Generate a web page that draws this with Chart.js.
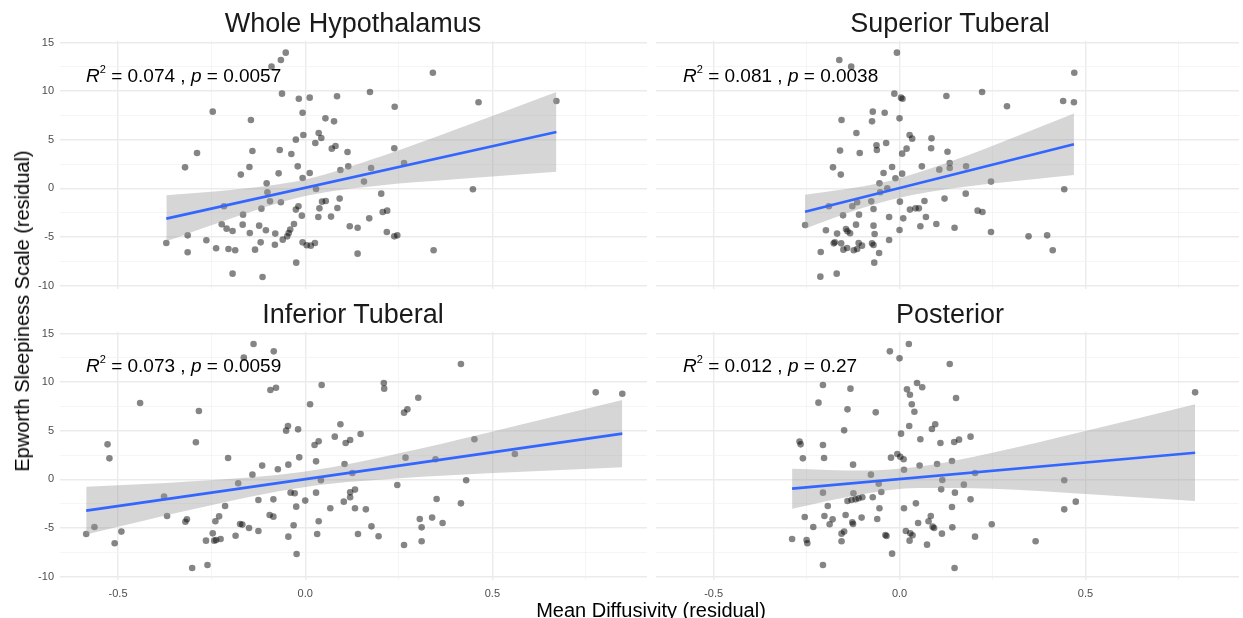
<!DOCTYPE html>
<html>
<head>
<meta charset="utf-8">
<script src="https://cdn.jsdelivr.net/npm/chart.js@4.4.1/dist/chart.umd.min.js"></script>
<style>
  body { margin: 0; background: #fff; font-family: "Liberation Sans", Arial, Helvetica, sans-serif; }
  #wrap { position: relative; width: 1243px; height: 618px; overflow: hidden; }
  canvas { position: absolute; }
  .title { position: absolute; font-size: 27px; line-height: 27px; color: #1a1a1a; white-space: nowrap; transform: translateX(-50%); }
  .stat { position: absolute; font-size: 19px; line-height: 19px; color: #000; white-space: nowrap; }
  .stat sup { font-size: 11px; position: relative; top: -9px; vertical-align: baseline; line-height: 0; }
  .axis-title { position: absolute; font-size: 20px; line-height: 20px; color: #000; white-space: nowrap; }
</style>
</head>
<body>
<div id="wrap">
  <canvas id="c0" width="657" height="268" style="left:0;top:31px"></canvas>
  <canvas id="c1" width="597" height="268" style="left:646px;top:31px"></canvas>
  <canvas id="c2" width="657" height="280" style="left:0;top:322px"></canvas>
  <canvas id="c3" width="597" height="280" style="left:646px;top:322px"></canvas>

  <div class="title" style="left:353px;top:10px">Whole Hypothalamus</div>
  <div class="title" style="left:950px;top:10px">Superior Tuberal</div>
  <div class="title" style="left:353px;top:301px">Inferior Tuberal</div>
  <div class="title" style="left:950px;top:301px">Posterior</div>

  <div class="stat" style="left:86px;top:66px"><i>R</i><sup>2</sup> = 0.074 , <i>p</i> = 0.0057</div>
  <div class="stat" style="left:683px;top:66px"><i>R</i><sup>2</sup> = 0.081 , <i>p</i> = 0.0038</div>
  <div class="stat" style="left:86px;top:356px"><i>R</i><sup>2</sup> = 0.073 , <i>p</i> = 0.0059</div>
  <div class="stat" style="left:683px;top:356px"><i>R</i><sup>2</sup> = 0.012 , <i>p</i> = 0.27</div>

  <div class="axis-title" style="left:651px;top:600px;transform:translateX(-50%)">Mean Diffusivity (residual)</div>
  <div class="axis-title" style="left:22px;top:311px;transform:translate(-50%,-50%) rotate(-90deg)">Epworth Sleepiness Scale (residual)</div>
</div>

<script>
// axis limits and ticks (shared by all four facets)
const xLimits = [-0.655, 0.913];
const yLimits = [-10.36, 15.16];
const xGridValues = [-0.5, -0.25, 0, 0.25, 0.5, 0.75];
const xTickLabels = { '-0.5': '-0.5', '0': '0.0', '0.5': '0.5' };
const yGridValues = [-10, -7.5, -5, -2.5, 0, 2.5, 5, 7.5, 10, 12.5, 15];
const yTickLabels = { '-10': '-10', '-5': '-5', '0': '0', '5': '5', '10': '10', '15': '15' };

// Whole Hypothalamus: [mean diffusivity, epworth]
const wholePts = [[-0.052,13.96],[-0.065,13.20],[-0.090,12.52],[-0.062,9.74],[-0.017,9.22],[0.012,9.33],[0.085,9.47],[-0.247,7.89],[-0.145,7.03],[-0.007,7.78],[0.054,7.20],[0.077,6.89],[0.036,5.69],[0.043,5.18],[-0.005,5.49],[-0.025,5.01],[0.027,4.66],[0.081,4.36],[0.071,4.08],[-0.289,3.64],[-0.141,3.84],[-0.068,3.94],[-0.037,3.53],[0.113,3.74],[-0.321,2.16],[-0.149,2.19],[-0.020,2.26],[0.115,2.26],[-0.172,1.41],[-0.071,1.54],[0.012,1.58],[0.094,1.89],[-0.007,1.06],[-0.103,0.51],[0.029,-0.07],[-0.101,-0.41],[-0.094,-1.34],[-0.065,-1.44],[-0.217,-1.85],[-0.117,-2.09],[-0.018,-1.85],[-0.025,-2.19],[0.055,-1.30],[0.045,-1.37],[0.038,-2.06],[0.092,-1.06],[0.086,-2.02],[-0.166,-2.71],[-0.009,-2.81],[0.035,-2.95],[0.069,-2.91],[-0.223,-3.70],[-0.210,-4.15],[-0.194,-4.39],[-0.167,-3.74],[-0.148,-4.60],[-0.123,-3.84],[-0.105,-4.32],[-0.030,-3.67],[-0.040,-4.25],[-0.044,-4.60],[-0.080,-4.66],[-0.048,-4.94],[-0.060,-5.28],[0.119,-3.91],[0.140,-4.05],[-0.314,-4.84],[-0.371,-5.62],[-0.264,-5.35],[-0.119,-5.56],[-0.081,-5.80],[-0.007,-5.56],[0.004,-5.86],[0.015,-5.90],[0.026,-5.62],[-0.314,-6.58],[-0.238,-6.17],[-0.205,-6.24],[-0.187,-6.38],[-0.134,-6.31],[0.140,-6.72],[-0.024,-7.65],[-0.194,-8.78],[-0.114,-9.12],[0.341,11.90],[0.173,9.91],[0.239,8.40],[0.463,8.85],[0.671,8.98],[0.238,4.12],[0.176,2.09],[0.264,2.61],[0.157,0.69],[0.203,-0.55],[0.448,-0.10],[0.207,-2.43],[0.219,-2.30],[0.171,-3.09],[0.218,-4.49],[0.238,-4.94],[0.246,-4.84],[0.343,-6.38]];
const wholeFit = [[-0.371,-3.12],[0.671,5.80]];
const wholeBandX = [-0.371,-0.2,0,0.2,0.4,0.671];
const wholeBandUp = [-0.7,-0.18,0.91,3.24,6.02,9.9];
const wholeBandLo = [-5.45,-3.12,-0.79,0.30,0.94,1.7];

// Superior Tuberal
const superiorPts = [[-0.007,13.96],[-0.162,13.20],[-0.130,12.52],[-0.014,9.74],[0.004,9.33],[0.008,9.22],[-0.072,7.89],[-0.040,7.78],[-0.156,7.03],[-0.074,6.89],[0.000,7.20],[-0.116,5.69],[0.027,5.49],[0.034,5.11],[-0.062,4.42],[-0.061,3.94],[-0.036,4.66],[0.019,4.08],[0.007,3.57],[-0.160,3.88],[-0.107,3.64],[-0.179,2.16],[-0.158,1.41],[-0.020,2.19],[-0.043,1.58],[-0.011,1.03],[0.007,1.51],[-0.054,0.51],[-0.033,0.00],[-0.052,-0.41],[-0.190,-1.85],[-0.114,-1.44],[-0.127,-1.85],[-0.076,-1.34],[-0.070,-2.13],[0.001,-1.37],[0.028,-2.19],[0.043,-2.06],[0.052,-2.06],[-0.152,-2.78],[-0.109,-2.71],[-0.028,-2.95],[0.010,-3.09],[-0.254,-3.77],[-0.198,-4.32],[-0.168,-4.66],[-0.144,-4.18],[-0.140,-4.42],[-0.133,-4.63],[-0.117,-3.74],[-0.070,-3.84],[-0.067,-4.70],[0.000,-4.29],[-0.174,-5.56],[-0.177,-5.66],[-0.157,-5.66],[-0.151,-6.31],[-0.141,-6.14],[-0.123,-6.38],[-0.114,-6.24],[-0.110,-5.62],[-0.101,-5.90],[-0.074,-5.66],[-0.070,-5.83],[-0.028,-5.32],[-0.212,-6.55],[-0.055,-6.65],[-0.068,-7.65],[-0.213,-9.09],[-0.169,-8.78],[0.126,9.50],[0.086,5.14],[0.085,4.12],[0.129,3.77],[0.060,2.26],[0.107,1.92],[0.067,-1.30],[0.121,-1.06],[0.071,-2.95],[0.056,-3.91],[0.099,-3.67],[0.470,11.90],[0.222,9.91],[0.440,8.98],[0.469,8.85],[0.289,8.44],[0.135,2.61],[0.135,2.09],[0.179,2.26],[0.246,0.69],[0.443,-0.10],[0.178,-0.55],[0.210,-2.30],[0.223,-2.43],[0.148,-4.05],[0.246,-4.49],[0.347,-4.94],[0.397,-4.84],[0.412,-6.38]];
const superiorFit = [[-0.254,-2.40],[0.469,4.53]];
const superiorBandX = [-0.254,-0.1,0,0.15,0.3,0.469];
const superiorBandUp = [-0.65,0.19,1.04,2.93,5.13,7.71];
const superiorBandLo = [-4.15,-2.03,-0.96,0.03,0.71,1.37];

// Inferior Tuberal
const inferiorPts = [[-0.138,13.92],[-0.164,12.52],[-0.084,13.17],[-0.093,9.19],[-0.078,9.43],[0.044,9.71],[-0.441,7.85],[-0.284,7.03],[0.013,7.72],[-0.046,5.49],[-0.051,5.01],[-0.019,5.14],[-0.528,3.60],[-0.292,3.81],[0.036,3.91],[0.025,3.53],[-0.523,2.16],[-0.206,2.19],[-0.016,2.26],[-0.115,1.41],[-0.045,1.51],[0.029,1.85],[-0.073,1.03],[-0.141,0.48],[-0.179,-0.41],[0.042,-0.10],[-0.377,-1.78],[-0.214,-2.74],[-0.125,-2.13],[-0.085,-2.06],[-0.039,-1.37],[-0.028,-1.44],[0.000,-2.19],[0.029,-1.37],[-0.024,-2.81],[0.067,-2.98],[-0.369,-3.77],[-0.320,-4.36],[-0.316,-4.12],[-0.240,-4.32],[-0.230,-3.81],[-0.174,-4.60],[-0.168,-4.66],[-0.150,-5.01],[-0.125,-5.32],[-0.095,-3.67],[-0.085,-3.84],[-0.031,-4.73],[0.036,-4.32],[-0.585,-5.62],[-0.563,-4.90],[-0.491,-5.38],[-0.509,-6.58],[-0.265,-6.31],[-0.247,-5.56],[-0.243,-6.31],[-0.238,-6.24],[-0.226,-6.14],[-0.186,-5.80],[-0.045,-5.90],[0.032,-5.62],[-0.023,-7.68],[-0.302,-9.12],[-0.261,-8.81],[0.094,5.66],[0.079,4.39],[0.120,4.05],[0.108,3.74],[0.148,4.66],[0.105,1.58],[0.126,0.65],[0.103,-2.30],[0.120,-1.34],[0.133,-1.06],[0.120,-1.85],[0.133,-2.98],[0.141,-5.62],[0.416,11.87],[0.210,9.91],[0.211,9.33],[0.302,8.40],[0.776,8.95],[0.847,8.81],[0.264,6.86],[0.273,7.20],[0.452,4.12],[0.268,2.23],[0.348,2.06],[0.560,2.61],[0.246,-0.58],[0.430,-0.10],[0.351,-2.02],[0.416,-2.47],[0.162,-3.09],[0.177,-4.84],[0.196,-5.86],[0.306,-4.08],[0.311,-4.94],[0.339,-3.94],[0.367,-4.49],[0.264,-6.76],[0.311,-6.38]];
const inferiorFit = [[-0.585,-3.22],[0.847,4.70]];
const inferiorBandX = [-0.585,-0.3,0,0.3,0.55,0.847];
const inferiorBandUp = [-0.77,-0.21,0.81,3.10,5.38,8.15];
const inferiorBandLo = [-5.67,-3.07,-0.78,0.24,0.74,1.25];

// Posterior
const posteriorPts = [[0.025,13.92],[-0.026,13.17],[0.000,12.45],[-0.206,9.71],[-0.132,9.33],[0.047,9.91],[0.061,9.47],[0.020,9.26],[0.028,8.71],[-0.218,7.89],[-0.140,7.20],[0.033,7.72],[0.040,6.96],[-0.064,6.89],[-0.149,5.04],[0.026,5.49],[0.096,5.66],[0.087,5.18],[0.004,4.70],[0.056,4.12],[-0.269,3.88],[-0.266,3.60],[-0.206,3.53],[0.110,3.74],[-0.260,2.16],[-0.203,2.19],[-0.023,2.23],[-0.006,2.61],[0.002,2.33],[0.011,2.06],[-0.125,1.51],[0.012,0.99],[0.054,1.41],[0.101,1.58],[-0.077,0.48],[-0.056,-0.45],[0.115,-0.07],[-0.206,-1.37],[-0.124,-1.44],[-0.140,-2.23],[-0.129,-2.13],[-0.118,-2.06],[-0.110,-1.95],[-0.100,-1.85],[-0.072,-1.85],[-0.049,-1.30],[0.112,-1.03],[-0.193,-2.74],[-0.054,-2.98],[0.012,-2.98],[0.044,-2.47],[-0.255,-3.88],[-0.202,-3.77],[-0.180,-4.12],[-0.188,-4.63],[-0.145,-3.67],[-0.102,-3.94],[-0.060,-4.08],[-0.127,-4.42],[-0.125,-4.60],[-0.232,-4.90],[-0.156,-5.59],[-0.149,-5.38],[-0.156,-6.38],[-0.038,-5.73],[-0.035,-5.83],[0.017,-5.32],[0.029,-5.56],[0.035,-5.76],[0.027,-6.31],[0.050,-4.49],[0.078,-4.32],[0.084,-3.77],[0.089,-4.87],[0.093,-5.01],[0.114,-5.59],[0.074,-6.72],[-0.289,-6.14],[-0.250,-6.24],[-0.248,-6.58],[-0.020,-7.65],[-0.206,-8.81],[0.135,11.87],[0.152,8.37],[0.795,8.95],[0.147,3.84],[0.160,4.08],[0.191,4.39],[0.141,1.89],[0.203,0.65],[0.173,-0.55],[0.443,-0.10],[0.149,-1.37],[0.191,-2.06],[0.474,-2.30],[0.141,-2.85],[0.443,-3.09],[0.142,-4.94],[0.248,-4.63],[0.203,-5.90],[0.366,-6.38],[0.148,-9.12]];
const posteriorFit = [[-0.289,-0.96],[0.795,2.74]];
const posteriorBandX = [-0.289,-0.1,0.05,0.25,0.5,0.795];
const posteriorBandUp = [1.10,0.90,1.30,2.74,4.97,7.72];
const posteriorBandLo = [-3.02,-1.54,-0.90,-0.98,-1.51,-2.24];

const FONT = '"Liberation Sans", Arial, Helvetica, sans-serif';

function isMajorX(v) { return Math.abs(v * 2 - Math.round(v * 2)) < 1e-6; }
function isMajorY(v) { return Math.abs(v / 5 - Math.round(v / 5)) < 1e-6; }

function toXY(pairs) { return pairs.map(p => ({ x: p[0], y: p[1] })); }
function bandXY(xs, ys) { return xs.map((x, i) => ({ x: x, y: ys[i] })); }

function makePanel(id, pts, fit, bandX, bandUp, bandLo, showX, showY, pad) {
  new Chart(document.getElementById(id), {
    type: 'scatter',
    data: {
      datasets: [
        {
          type: 'line', data: toXY(fit), borderColor: '#3366ff', borderWidth: 2.6,
          pointRadius: 0, fill: false, order: 0
        },
        {
          type: 'line', data: bandXY(bandX, bandLo), borderWidth: 0, borderColor: 'rgba(0,0,0,0)',
          pointRadius: 0, fill: false, cubicInterpolationMode: 'monotone', order: 1
        },
        {
          type: 'line', data: bandXY(bandX, bandUp), borderWidth: 0, borderColor: 'rgba(0,0,0,0)',
          backgroundColor: 'rgba(153,153,153,0.4)', pointRadius: 0, fill: '-1',
          cubicInterpolationMode: 'monotone', order: 1
        },
        {
          data: toXY(pts), pointRadius: 3.3, pointBorderWidth: 0,
          pointBackgroundColor: 'rgba(0,0,0,0.48)', order: 2
        }
      ]
    },
    options: {
      responsive: false,
      animation: false,
      events: [],
      layout: { padding: pad },
      plugins: { legend: { display: false }, tooltip: { enabled: false } },
      scales: {
        x: {
          type: 'linear', min: xLimits[0], max: xLimits[1],
          border: { display: false },
          grid: {
            drawTicks: false,
            color: c => isMajorX(c.tick.value) ? '#ebebeb' : '#f2f2f2',
            lineWidth: c => isMajorX(c.tick.value) ? 1.4 : 0.8
          },
          afterBuildTicks: s => { s.ticks = xGridValues.map(v => ({ value: v })); },
          afterFit: s => { s.height = showX ? 22 : 0; s.paddingLeft = 0; s.paddingRight = 0; },
          ticks: {
            display: showX, autoSkip: false, maxRotation: 0, padding: 7,
            color: '#4d4d4d', font: { family: FONT, size: 11 },
            callback: v => xTickLabels[String(v)] || ''
          }
        },
        y: {
          type: 'linear', min: yLimits[0], max: yLimits[1],
          border: { display: false },
          grid: {
            drawTicks: false,
            color: c => isMajorY(c.tick.value) ? '#ebebeb' : '#f2f2f2',
            lineWidth: c => isMajorY(c.tick.value) ? 1.4 : 0.8
          },
          afterBuildTicks: s => { s.ticks = yGridValues.map(v => ({ value: v })); },
          afterFit: s => { s.width = showY ? 60 : 0; s.paddingTop = 0; s.paddingBottom = 0; },
          ticks: {
            display: showY, autoSkip: false, padding: 6,
            color: '#4d4d4d', font: { family: FONT, size: 11 },
            callback: v => yTickLabels[String(v)] || ''
          }
        }
      }
    }
  });
}

makePanel('c0', wholePts, wholeFit, wholeBandX, wholeBandUp, wholeBandLo, false, true,
  { top: 10, bottom: 10, left: 0, right: 10 });
makePanel('c1', superiorPts, superiorFit, superiorBandX, superiorBandUp, superiorBandLo, false, false,
  { top: 10, bottom: 10, left: 10, right: 0 });
makePanel('c2', inferiorPts, inferiorFit, inferiorBandX, inferiorBandUp, inferiorBandLo, true, true,
  { top: 10, bottom: 0, left: 0, right: 10 });
makePanel('c3', posteriorPts, posteriorFit, posteriorBandX, posteriorBandUp, posteriorBandLo, true, false,
  { top: 10, bottom: 0, left: 10, right: 0 });
</script>
</body>
</html>
